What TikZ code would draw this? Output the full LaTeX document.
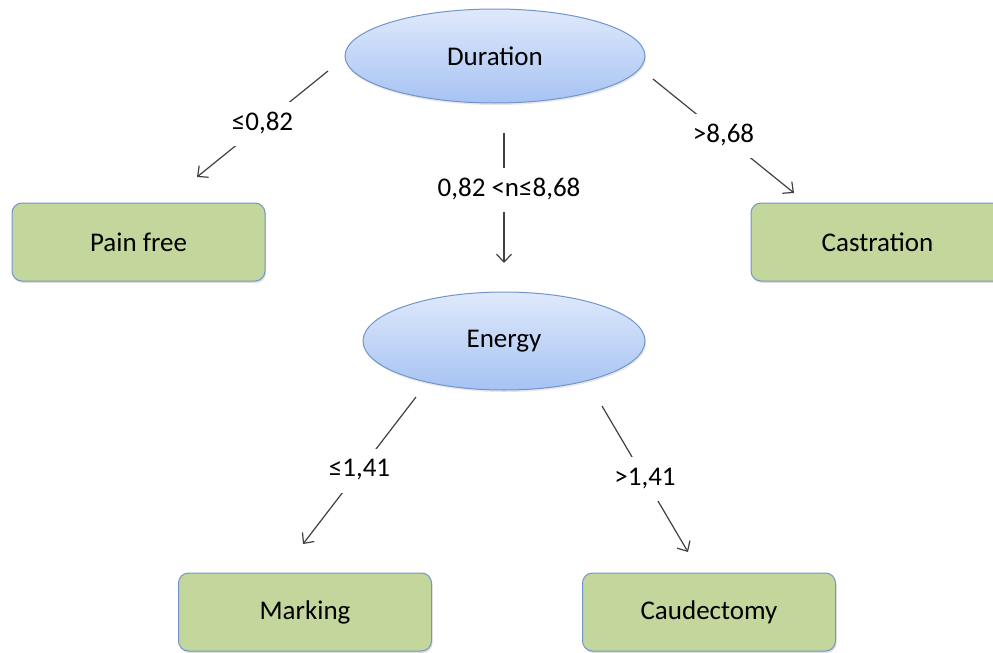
\documentclass[tikz,border=0pt]{standalone}
\usepackage{fontspec}
\setmainfont{Carlito}
\usetikzlibrary{shapes.geometric}
\usetikzlibrary{arrows.meta}
\usetikzlibrary{shadows}
\definecolor{edgeblue}{HTML}{7195CB}
\definecolor{ovaltop}{HTML}{DFE9FB}
\definecolor{ovalbot}{HTML}{A6C3F3}
\definecolor{leafgreen}{HTML}{C3D69B}
\definecolor{wire}{HTML}{404040}
\tikzset{
    every node/.style={
        font=\fontsize{27}{32}\selectfont},
    test/.style={
        ellipse,
        draw=edgeblue,
        line width=1pt,
        top color=ovaltop,
        bottom color=ovalbot,
        drop shadow={opacity=0.2,shadow xshift=1pt,shadow yshift=-2pt}},
    leaf/.style={
        rectangle,
        rounded corners=10pt,
        draw=edgeblue,
        line width=1pt,
        fill=leafgreen,
        minimum width=253pt,
        minimum height=78pt,
        drop shadow={opacity=0.25,shadow xshift=1pt,shadow yshift=-2pt}},
    cond/.style={
        fill=white,
        text=black,
        inner xsep=5pt,
        inner ysep=10pt,
        text height=18pt,
        text depth=6pt},
    every edge/.style={
        draw,
        ->,>={Straight Barb[length=8pt,width=15pt]},
        line width=1.2pt,
        wire}}

\begin{document}
\begin{tikzpicture}[x=1pt,y=-1pt]
        \useasboundingbox (0,0) rectangle (993,653);

        \node[test,minimum width=300pt,minimum height=94pt] (dur) at (495,56) {Duration};
        \node[test,minimum width=282pt,minimum height=98pt] (nrg) at (504,341) {Energy};

        \node[leaf] (free) at (138.5,242) {Pain free};
        \node[leaf] (cast) at (877.5,242) {Castration};
        \node[leaf] (mark) at (305,612) {Marking};
        \node[leaf] (caud) at (709,612) {Caudectomy};

        % free ends of the connectors
        \coordinate (d1) at (328,71);
        \coordinate (f1) at (197,177);
        \coordinate (d2) at (504,133);
        \coordinate (n2) at (504,263);
        \coordinate (d3) at (653,79);
        \coordinate (c3) at (794,193);
        \coordinate (n4) at (416,397);
        \coordinate (m4) at (303,544);
        \coordinate (n5) at (602,406);
        \coordinate (c5) at (688,552);

        \draw (d1) edge node[cond] {≤0,82} (f1);
        \draw (d2) edge node[cond,pos=0.44,xshift=5pt] {0,82 <n≤8,68} (n2);
        \draw (d3) edge node[cond] {>8,68} (c3);

        \draw (n4) edge node[cond] {≤1,41} (m4);
        \draw (n5) edge node[cond] {>1,41} (c5);
    \end{tikzpicture}
\end{document}
